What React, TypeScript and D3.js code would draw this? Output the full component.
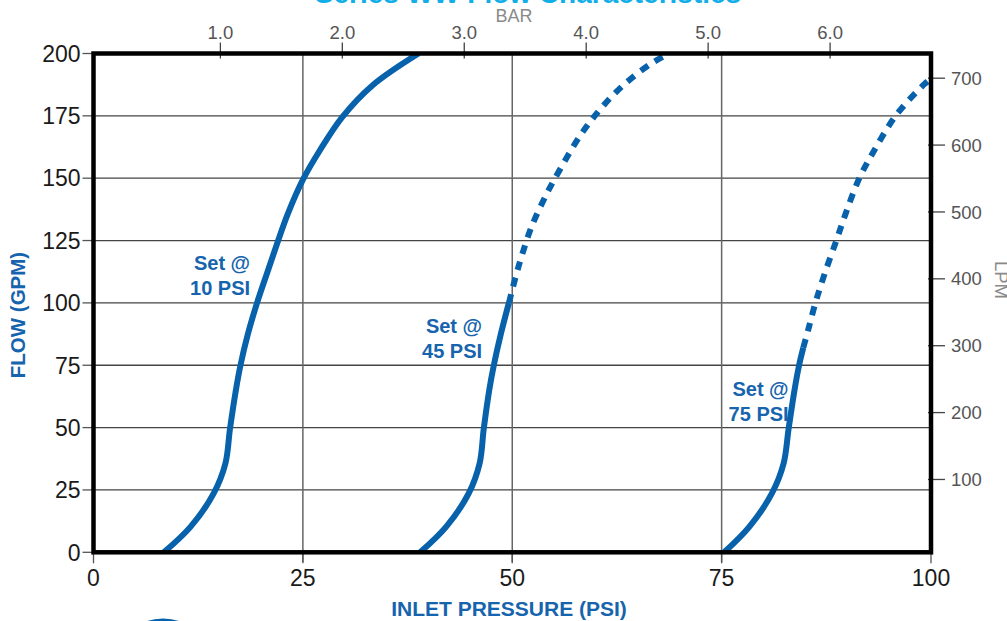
import React from "react";
import * as d3 from "d3";

const psiTicks = [0, 25, 50, 75, 100];
const gpmTicks = [0, 25, 50, 75, 100, 125, 150, 175, 200];
const barTicks = [1, 2, 3, 4, 5, 6];
const lpmTicks = [100, 200, 300, 400, 500, 600, 700];
const psiGrid = [25, 50, 75];
const gpmGrid = [25, 50, 75, 100, 125, 150, 175];

// [psi, gpm]
const set10: [number, number][] = [
  [8.4, 0], [11.58, 10.2], [14.35, 23.6], [15.75, 35.6], [16.3, 49.6], [17.0, 65],
  [17.55, 75], [18.45, 87.7], [19.5, 99.7], [20.7, 111.7], [22.05, 125], [23.2, 135.7],
  [25.05, 149.7], [27.0, 161], [29.7, 174.5], [33.3, 187.2], [38.8, 200],
];
const set45Solid: [number, number][] = [
  [39.0, 0], [42.1, 10.2], [44.8, 23.6], [46.1, 35.6], [46.6, 49.6], [47.25, 65],
  [47.8, 75], [48.65, 87.7], [49.6, 100],
];
const set45Dotted: [number, number][] = [
  [49.6, 100], [50.45, 111], [51.1, 118.5], [52.3, 130.5], [54.0, 143], [55.0, 149.3],
  [58.1, 167], [60.6, 178], [63.3, 187.4], [66.6, 196], [68.7, 200],
];
const set75Solid: [number, number][] = [
  [75.3, 0], [78.3, 10.2], [81.0, 23.6], [82.4, 35.6], [83.0, 49.6], [83.7, 65],
  [84.25, 75], [84.75, 82],
];
const set75Dotted: [number, number][] = [
  [84.75, 82], [85.4, 90], [86.2, 100], [87.3, 111.7], [88.7, 125], [89.8, 135.7],
  [91.4, 149.7], [93.2, 161], [95.8, 175.1], [99.2, 187.7], [100.8, 192],
];

const labels = [
  { line1: "Set @", line2: "10 PSI", psi: 18.7, gpm: 113 },
  { line1: "Set @", line2: "45 PSI", psi: 46.4, gpm: 88 },
  { line1: "Set @", line2: "75 PSI", psi: 83.0, gpm: 62.5 },
];

const W = 1007;
const H = 621;
const BLUE = "#0861ab";
const TEXT_BLUE = "#1664ad";

export default function App() {
  const x = d3.scaleLinear().domain([0, 100]).range([93.5, 931]);
  const y = d3.scaleLinear().domain([0, 200]).range([552.3, 53.5]);
  const barScale = d3.scaleLinear().domain([1, 6]).range([x(15.15), x(87.95)]);
  const lpmScale = d3.scaleLinear().domain([100, 700]).range([y(29.2), y(190.1)]);

  const line = d3
    .line<[number, number]>()
    .x((d) => x(d[0]))
    .y((d) => y(d[1]))
    .curve(d3.curveCatmullRom.alpha(0.5));

  const [x0, x1] = x.range();
  const [y0, y1] = y.range();

  return (
    <svg
      width={W}
      height={H}
      style={{ position: "absolute", left: 0, top: 0, background: "#fff" }}
      fontFamily="'Liberation Sans', Arial, sans-serif"
    >
      <defs>
        <clipPath id="plot">
          <rect x={x0} y={y1} width={x1 - x0} height={y0 - y1} />
        </clipPath>
      </defs>
      <rect width={W} height={H} fill="#fff" />

      {/* title (cut off at top) */}
      <text x={528} y={3} textAnchor="middle" fontSize={28} fontWeight="bold" fill="#12aee8">
        Series WW Flow Characteristics
      </text>
      <text x={514} y={22} textAnchor="middle" fontSize={18} fill="#8a8a8a">
        BAR
      </text>

      {/* grid */}
      {gpmGrid.map((g) => (
        <line key={"hg" + g} x1={x0} x2={x1} y1={y(g)} y2={y(g)} stroke="#444" strokeWidth={1.3} />
      ))}
      {psiGrid.map((p) => (
        <line key={"vg" + p} x1={x(p)} x2={x(p)} y1={y1} y2={y0 + 10} stroke="#666" strokeWidth={1.5} />
      ))}

      {/* left ticks */}
      {gpmTicks.map((g) => (
        <g key={"ly" + g}>
          <line x1={x0 - 11} x2={x0} y1={y(g)} y2={y(g)} stroke="#555" strokeWidth={1.3} />
          <text x={x0 - 13} y={y(g)} dy="0.36em" textAnchor="end" fontSize={23} fill="#1a1a1a">
            {g}
          </text>
        </g>
      ))}
      {/* bottom ticks */}
      {psiTicks.map((p) => (
        <g key={"bx" + p}>
          <line x1={x(p)} x2={x(p)} y1={y0} y2={y0 + 11} stroke="#555" strokeWidth={1.3} />
          <text x={x(p)} y={y0 + 34} textAnchor="middle" fontSize={23} fill="#1a1a1a">
            {p}
          </text>
        </g>
      ))}
      {/* top BAR ticks */}
      {barTicks.map((b) => (
        <g key={"tb" + b}>
          <line x1={barScale(b)} x2={barScale(b)} y1={y1 - 11} y2={y1 + 5} stroke="#444" strokeWidth={1.3} />
          <text x={barScale(b)} y={y1 - 15} textAnchor="middle" fontSize={18.5} fill="#555">
            {b.toFixed(1)}
          </text>
        </g>
      ))}
      {/* right LPM ticks */}
      {lpmTicks.map((l) => (
        <g key={"rl" + l}>
          <line x1={x1 - 3} x2={x1 + 14} y1={lpmScale(l)} y2={lpmScale(l)} stroke="#444" strokeWidth={1.3} />
          <text x={x1 + 20} y={lpmScale(l)} dy="0.36em" fontSize={18.5} fill="#555">
            {l}
          </text>
        </g>
      ))}
      <text
        transform={`translate(995,280) rotate(90)`}
        textAnchor="middle"
        fontSize={18.5}
        fill="#8a8a8a"
      >
        LPM
      </text>

      {/* curves */}
      <g clipPath="url(#plot)" fill="none" stroke={BLUE} strokeWidth={6}>
        <path d={line(set10) || ""} />
        <path d={line(set45Solid) || ""} />
        <path d={line(set45Dotted) || ""} strokeDasharray="9 8" />
        <path d={line(set75Solid) || ""} />
        <path d={line(set75Dotted) || ""} strokeDasharray="9 8" />
      </g>

      {/* frame */}
      <rect x={x0} y={y1} width={x1 - x0} height={y0 - y1} fill="none" stroke="#000" strokeWidth={4.5} />

      {/* curve labels */}
      {labels.map((l, i) => (
        <text key={"lab" + i} x={x(l.psi)} y={y(l.gpm)} textAnchor="end" fontSize={20} fontWeight="bold" fill={TEXT_BLUE}>
          <tspan x={x(l.psi)}>{l.line1}</tspan>
          <tspan x={x(l.psi)} dy={25}>
            {l.line2}
          </tspan>
        </text>
      ))}

      {/* axis titles */}
      <text x={509} y={616} textAnchor="middle" fontSize={21} fontWeight="bold" fill={TEXT_BLUE}>
        INLET PRESSURE (PSI)
      </text>
      <text
        transform={`translate(25,315) rotate(-90)`}
        textAnchor="middle"
        fontSize={20.5}
        fontWeight="bold"
        fill={TEXT_BLUE}
      >
        FLOW (GPM)
      </text>

      {/* partial logo at bottom */}
      <ellipse cx={163} cy={634} rx={27} ry={14} fill="none" stroke={BLUE} strokeWidth={3} />
    </svg>
  );
}
